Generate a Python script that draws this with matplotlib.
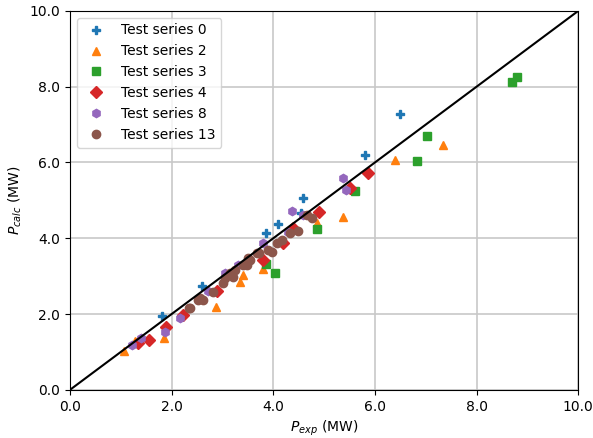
import numpy as np
import matplotlib
matplotlib.use("Agg")
import matplotlib.pyplot as plt

# measured vs calculated power, per test series
s0_exp = [1.81, 2.60, 3.86, 4.09, 4.55, 4.59, 5.81, 6.50]
s0_calc = [1.95, 2.74, 4.14, 4.38, 4.67, 5.07, 6.20, 7.28]

s2_exp = [1.06, 1.28, 1.85, 2.87, 3.35, 3.41, 3.80, 4.86, 5.37, 6.40, 7.34]
s2_calc = [1.03, 1.29, 1.37, 2.19, 2.85, 3.03, 3.19, 4.41, 4.56, 6.07, 6.46]

s3_exp = [3.86, 4.03, 4.86, 5.61, 6.83, 7.03, 8.70, 8.80]
s3_calc = [3.31, 3.08, 4.25, 5.25, 6.04, 6.70, 8.13, 8.26]

s4_exp = [1.34, 1.56, 1.89, 2.23, 2.89, 3.80, 4.19, 4.39, 4.90, 5.51, 5.87]
s4_calc = [1.24, 1.32, 1.66, 1.98, 2.61, 3.43, 3.88, 4.27, 4.70, 5.33, 5.73]

s8_exp = [1.22, 1.40, 1.87, 2.17, 2.72, 3.05, 3.31, 3.80, 4.29, 4.37, 4.59, 5.37, 5.43]
s8_calc = [1.19, 1.37, 1.53, 1.90, 2.61, 3.09, 3.30, 3.88, 4.17, 4.72, 4.62, 5.59, 5.28]

s13_exp = [2.34, 2.36, 2.52, 2.56, 2.62, 2.82, 3.01, 3.05, 3.15, 3.21, 3.25,
           3.41, 3.48, 3.50, 3.54, 3.68, 3.72, 3.90, 3.97, 4.07, 4.17, 4.33,
           4.49, 4.66, 4.76]
s13_calc = [2.16, 2.16, 2.37, 2.43, 2.37, 2.59, 2.82, 2.96, 3.09, 2.98, 3.17,
            3.30, 3.30, 3.48, 3.43, 3.61, 3.61, 3.69, 3.64, 3.88, 3.96, 4.14,
            4.20, 4.62, 4.54]

series = [
    ("Test series 0", s0_exp, s0_calc, "P", "C0"),
    ("Test series 2", s2_exp, s2_calc, "^", "C1"),
    ("Test series 3", s3_exp, s3_calc, "s", "C2"),
    ("Test series 4", s4_exp, s4_calc, "D", "C3"),
    ("Test series 8", s8_exp, s8_calc, "h", "C4"),
    ("Test series 13", s13_exp, s13_calc, "o", "C5"),
]

fig = plt.figure(figsize=(5.93, 4.38), dpi=100)
ax = fig.add_axes([0.118, 0.110, 0.857, 0.865])

for name, xe, yc, m, c in series:
    ax.plot(xe, yc, linestyle="none", marker=m, color=c, markersize=6, label=name)

ax.plot([0, 10], [0, 10], color="black", linewidth=1.5)

ax.set_xlim(0, 10)
ax.set_ylim(0, 10)
ticks = np.arange(0, 10.1, 2.0)
ax.set_xticks(ticks)
ax.set_yticks(ticks)
ax.set_xticklabels(["%.1f" % t for t in ticks])
ax.set_yticklabels(["%.1f" % t for t in ticks])
ax.grid(True, color="#c8c8c8", linewidth=1.2)
ax.set_axisbelow(True)
ax.set_xlabel("$P_{exp}$ (MW)")
ax.set_ylabel("$P_{calc}$ (MW)")
ax.legend(loc="upper left")

fig.savefig("out.png", dpi=100)
